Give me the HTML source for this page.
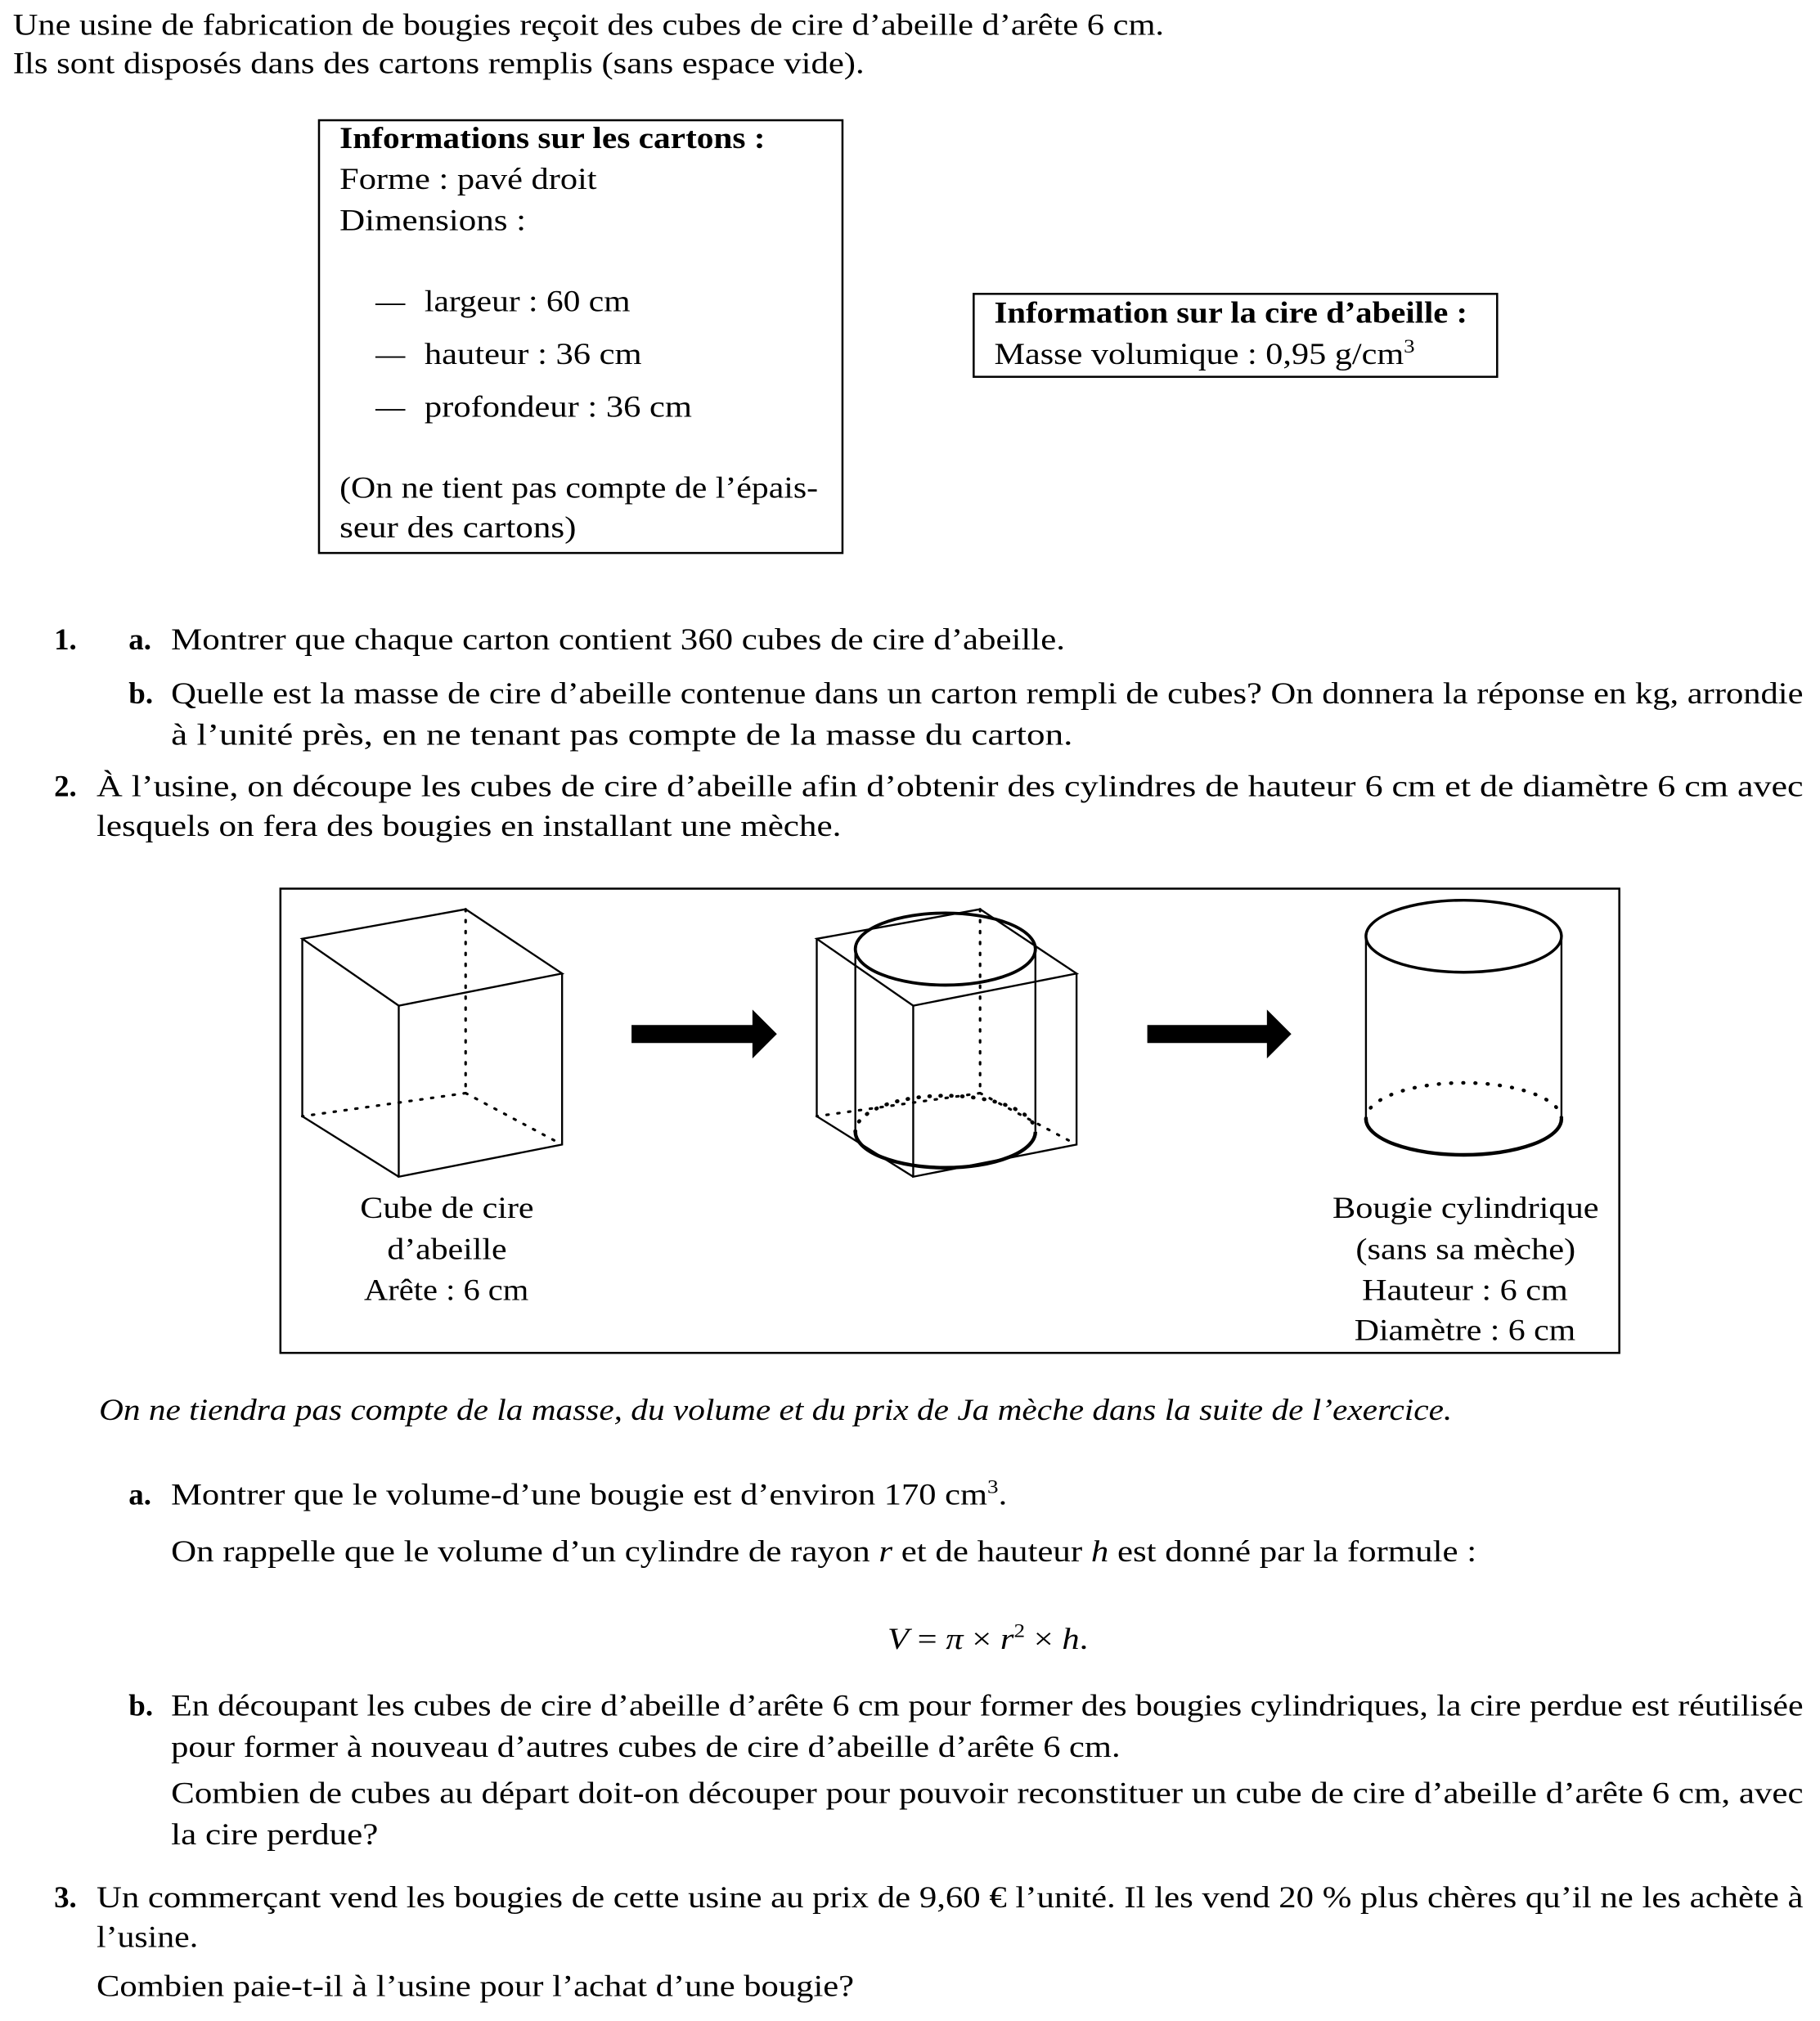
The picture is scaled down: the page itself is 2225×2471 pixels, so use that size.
<!DOCTYPE html>
<html><head><meta charset="utf-8"><style>
html,body{margin:0;padding:0;background:#fff;}
svg{display:block;}
text{font-family:"Liberation Serif",serif;font-size:23.5px;fill:#000;}
.b{font-weight:bold;}
.i{font-style:italic;}
</style></head><body>
<svg width="2225" height="2471" viewBox="0 0 1415 1571.5" xmlns="http://www.w3.org/2000/svg">
<text x="10" y="27" textLength="895" lengthAdjust="spacingAndGlyphs">Une usine de fabrication de bougies reçoit des cubes de cire d’abeille d’arête 6 cm.</text>
<text x="10" y="57" textLength="662" lengthAdjust="spacingAndGlyphs">Ils sont disposés dans des cartons remplis (sans espace vide).</text>

<rect x="248" y="93.5" width="407" height="336.5" fill="none" stroke="#000" stroke-width="1.6"/>
<text x="264" y="115" class="b" textLength="331" lengthAdjust="spacingAndGlyphs">Informations sur les cartons :</text>
<text x="264" y="147" textLength="200" lengthAdjust="spacingAndGlyphs">Forme : pavé droit</text>
<text x="264" y="179" textLength="145" lengthAdjust="spacingAndGlyphs">Dimensions :</text>
<text x="292" y="242" textLength="23" lengthAdjust="spacingAndGlyphs">—</text>
<text x="330" y="242" textLength="160" lengthAdjust="spacingAndGlyphs">largeur : 60 cm</text>
<text x="292" y="283" textLength="23" lengthAdjust="spacingAndGlyphs">—</text>
<text x="330" y="283" textLength="169" lengthAdjust="spacingAndGlyphs">hauteur : 36 cm</text>
<text x="292" y="324" textLength="23" lengthAdjust="spacingAndGlyphs">—</text>
<text x="330" y="324" textLength="208" lengthAdjust="spacingAndGlyphs">profondeur : 36 cm</text>
<text x="264" y="387" textLength="372" lengthAdjust="spacingAndGlyphs">(On ne tient pas compte de l’épais-</text>
<text x="264" y="418" textLength="184" lengthAdjust="spacingAndGlyphs">seur des cartons)</text>

<rect x="757" y="228.5" width="407" height="64.5" fill="none" stroke="#000" stroke-width="1.6"/>
<text x="773" y="251" class="b" textLength="368" lengthAdjust="spacingAndGlyphs">Information sur la cire d’abeille :</text>
<text x="773" y="283" textLength="327" lengthAdjust="spacingAndGlyphs">Masse volumique : 0,95 g/cm<tspan dy="-9" font-size="15">3</tspan></text>

<text x="42" y="505" class="b">1.</text>
<text x="100" y="505" class="b">a.</text>
<text x="133" y="505" textLength="695" lengthAdjust="spacingAndGlyphs">Montrer que chaque carton contient 360 cubes de cire d’abeille.</text>
<text x="100" y="547" class="b">b.</text>
<text x="133" y="547" textLength="1269" lengthAdjust="spacingAndGlyphs">Quelle est la masse de cire d’abeille contenue dans un carton rempli de cubes? On donnera la réponse en kg, arrondie</text>
<text x="133" y="579" textLength="701" lengthAdjust="spacingAndGlyphs">à l’unité près, en ne tenant pas compte de la masse du carton.</text>
<text x="42" y="619" class="b">2.</text>
<text x="75" y="619" textLength="1327" lengthAdjust="spacingAndGlyphs">À l’usine, on découpe les cubes de cire d’abeille afin d’obtenir des cylindres de hauteur 6 cm et de diamètre 6 cm avec</text>
<text x="75" y="650" textLength="579" lengthAdjust="spacingAndGlyphs">lesquels on fera des bougies en installant une mèche.</text>

<rect x="218" y="691" width="1041" height="361" fill="none" stroke="#000" stroke-width="1.6"/>
<g fill="none" stroke="#000" stroke-width="1.5">
<polygon points="235,730 362,707 437,757 310,782"/>
<polyline points="310,782 310,915 437,890 437,757"/>
<polyline points="235,730 235,868 310,915"/>
<g stroke-dasharray="1.5,7" stroke-linecap="round" stroke-width="2">
<line x1="362" y1="707" x2="362" y2="850"/><line x1="362" y1="850" x2="235" y2="868"/><line x1="362" y1="850" x2="437" y2="890"/>
</g>
</g>
<g fill="none" stroke="#000" stroke-width="1.5">
<polygon points="635,730 762,707 837,757 710,782"/>
<polyline points="710,782 710,915 837,890 837,757"/>
<polyline points="635,730 635,868 710,915"/>
<g stroke-dasharray="1.5,7" stroke-linecap="round" stroke-width="2">
<line x1="762" y1="707" x2="762" y2="850"/><line x1="762" y1="850" x2="635" y2="868"/><line x1="762" y1="850" x2="837" y2="890"/>
</g>
<ellipse cx="735" cy="738" rx="70" ry="28" stroke-width="2.4"/>
<line x1="665" y1="738" x2="665" y2="880"/><line x1="805" y1="738" x2="805" y2="880"/>
<path d="M665,880 A70,28 0 0 0 805,880" stroke-width="2.8"/>
<path d="M665,880 A70,28 0 0 1 805,880" stroke-width="3" stroke-dasharray="0.5,8" stroke-linecap="round"/>
</g>
<g fill="none" stroke="#000" stroke-width="1.5">
<ellipse cx="1138" cy="728" rx="76" ry="28" stroke-width="2.2"/>
<line x1="1062" y1="728" x2="1062" y2="870"/><line x1="1214" y1="728" x2="1214" y2="870"/>
<path d="M1062,870 A76,28 0 0 0 1214,870" stroke-width="2.8"/>
<path d="M1062,870 A76,28 0 0 1 1214,870" stroke-width="2.8" stroke-dasharray="0.5,9" stroke-linecap="round"/>
</g>
<polygon points="491,797 585,797 585,785 604,804 585,823 585,811 491,811" fill="#000"/>
<polygon points="892,797 985,797 985,785 1004,804 985,823 985,811 892,811" fill="#000"/>

<text x="280" y="947" textLength="135" lengthAdjust="spacingAndGlyphs">Cube de cire</text>
<text x="301" y="979" textLength="93" lengthAdjust="spacingAndGlyphs">d’abeille</text>
<text x="283" y="1011" textLength="128" lengthAdjust="spacingAndGlyphs">Arête : 6 cm</text>
<text x="1036" y="947" textLength="207" lengthAdjust="spacingAndGlyphs">Bougie cylindrique</text>
<text x="1054" y="979" textLength="171" lengthAdjust="spacingAndGlyphs">(sans sa mèche)</text>
<text x="1059" y="1011" textLength="160" lengthAdjust="spacingAndGlyphs">Hauteur : 6 cm</text>
<text x="1053" y="1042" textLength="172" lengthAdjust="spacingAndGlyphs">Diamètre : 6 cm</text>

<text x="77" y="1104" class="i" textLength="1052" lengthAdjust="spacingAndGlyphs">On ne tiendra pas compte de la masse, du volume et du prix de Ja mèche dans la suite de l’exercice.</text>
<text x="100" y="1170" class="b">a.</text>
<text x="133" y="1170" textLength="650" lengthAdjust="spacingAndGlyphs">Montrer que le volume-d’une bougie est d’environ 170 cm<tspan dy="-9" font-size="15">3</tspan><tspan dy="9">.</tspan></text>
<text x="133" y="1214" textLength="1015" lengthAdjust="spacingAndGlyphs">On rappelle que le volume d’un cylindre de rayon <tspan class="i">r</tspan> et de hauteur <tspan class="i">h</tspan> est donné par la formule :</text>
<text x="690" y="1282" textLength="156" lengthAdjust="spacingAndGlyphs"><tspan class="i">V</tspan> = <tspan class="i">π</tspan> × <tspan class="i">r</tspan><tspan dy="-9" font-size="15">2</tspan><tspan dy="9"> × </tspan><tspan class="i">h</tspan>.</text>
<text x="100" y="1334" class="b">b.</text>
<text x="133" y="1334" textLength="1269" lengthAdjust="spacingAndGlyphs">En découpant les cubes de cire d’abeille d’arête 6 cm pour former des bougies cylindriques, la cire perdue est réutilisée</text>
<text x="133" y="1366" textLength="738" lengthAdjust="spacingAndGlyphs">pour former à nouveau d’autres cubes de cire d’abeille d’arête 6 cm.</text>
<text x="133" y="1402" textLength="1269" lengthAdjust="spacingAndGlyphs">Combien de cubes au départ doit-on découper pour pouvoir reconstituer un cube de cire d’abeille d’arête 6 cm, avec</text>
<text x="133" y="1434" textLength="161" lengthAdjust="spacingAndGlyphs">la cire perdue?</text>
<text x="42" y="1483" class="b">3.</text>
<text x="75" y="1483" textLength="1327" lengthAdjust="spacingAndGlyphs">Un commerçant vend les bougies de cette usine au prix de 9,60 € l’unité. Il les vend 20 % plus chères qu’il ne les achète à</text>
<text x="75" y="1514" textLength="79" lengthAdjust="spacingAndGlyphs">l’usine.</text>
<text x="75" y="1552" textLength="589" lengthAdjust="spacingAndGlyphs">Combien paie-t-il à l’usine pour l’achat d’une bougie?</text>
</svg>
</body></html>
